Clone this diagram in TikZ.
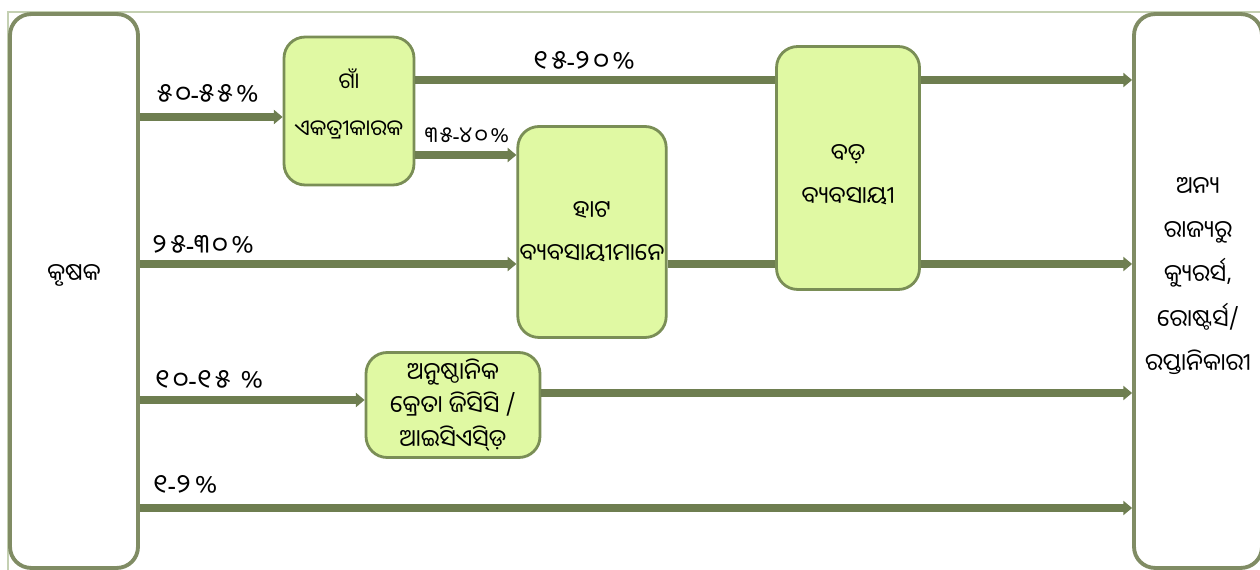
\documentclass[tikz,border=0pt]{standalone}
\usepackage{fontspec}
\newfontfamily\odia[Script=Oriya]{Noto Sans Oriya UI}
\newfontfamily\odiawide[Script=Oriya,LetterSpace=14]{Noto Sans Oriya UI}
\newfontfamily\latinfont{Noto Sans}
\newcommand{\rangedash}{{\latinfont -}}
\usetikzlibrary{arrows.meta,positioning}
\definecolor{oliveline}{RGB}{110,126,80}
\definecolor{olivebox}{RGB}{122,142,86}
\definecolor{endline}{RGB}{128,140,100}
\definecolor{limefill}{RGB}{224,249,163}
\definecolor{framegreen}{RGB}{196,208,178}

\begin{document}
\begin{tikzpicture}[x=0.02cm,y=-0.02cm,
  every node/.style={font=\odia\fontsize{13.5}{24}\selectfont,align=center,text=black},
  endbox/.style={draw=endline, line width=2.2pt, rounded corners=12pt, fill=white,
    minimum width=2.56cm, minimum height=11.08cm},
  midbox/.style={draw=olivebox, line width=1.6pt, rounded corners=12pt, fill=limefill,
    inner sep=1pt},
  flow/.style={draw=oliveline, line width=4.5pt, -{Triangle[length=5pt,width=8pt]}},
  link/.style={draw=oliveline, line width=4.5pt},
  share/.style={font=\odiawide\fontsize{15}{18}\selectfont}]

\useasboundingbox (0,0) rectangle (1260,570);

% outer frame
\draw[framegreen, line width=1pt] (8,572) -- (8,12) -- (1262,12);

% end points
\node[endbox] (farmer) at (74,291) {};
\node[endbox] (buyers) at (1198,291) {};
\node (farmertext) at (74,275) {କୃଷକ};
\node[font=\odia\fontsize{13.5}{25.2}\selectfont] (buyerstext) at (1198,276)
  {ଅନ୍ୟ\\ରାଜ୍ୟରୁ\\କ୍ୟୁରର୍ସ,\\ରୋଷ୍ଟର୍ସ/\\ରପ୍ତାନିକାରୀ};

% middlemen
\node[midbox, minimum width=2.6cm, minimum height=2.96cm,
  font=\odia\fontsize{12.5}{27}\selectfont] (agg) at (349,111) {};
\node[midbox, minimum width=2.9cm, minimum height=4.22cm] (hat) at (592,232) {ହାଟ\\ବ୍ୟବସାୟୀମାନେ};
\node[midbox, minimum width=2.86cm, minimum height=4.86cm] (big) at (848,168) {};
\node[midbox, minimum width=3.48cm, minimum height=2.1cm,
  font=\odia\fontsize{13.5}{19}\selectfont] (inst) at (453,405) {ଅନୁଷ୍ଠାନିକ\\କ୍ରେତା ଜିସିସି /\\ଆଇସିଏସ୍ଡ଼ି};
\node[font=\odia\fontsize{12.5}{27}\selectfont] (aggtext) at (349,104) {ଗାଁ\\ଏକତ୍ରୀକାରକ};
\node (bigtext) at (848,175) {ବଡ଼\\ବ୍ୟବସାୟୀ};

% rows of the flows
\coordinate (r1) at (0,80);
\coordinate (r2) at (0,117);
\coordinate (r3) at (0,155);
\coordinate (r4) at (0,264);
\coordinate (r5) at (0,400);
\coordinate (r5b) at (0,393);
\coordinate (r6) at (0,508);

% flows
\draw[flow] (farmer.east |- r2) -- (agg.west |- r2);
\draw[link] (agg.east |- r1) -- (big.west |- r1);
\draw[flow] (agg.east |- r3) -- (hat.west |- r3);
\draw[flow] (farmer.east |- r4) -- (hat.west |- r4);
\draw[link] (hat.east |- r4) -- (big.west |- r4);
\draw[flow] (big.east |- r1) -- (buyers.west |- r1);
\draw[flow] (big.east |- r4) -- (buyers.west |- r4);
\draw[flow] (farmer.east |- r5) -- (inst.west |- r5);
\draw[flow] (inst.east |- r5b) -- (buyers.west |- r5b);
\draw[flow] (farmer.east |- r6) -- (buyers.west |- r6);

% shares
\node[share] (s1) at (208,95) {୫୦\rangedash୫୫\%};
\node[share] (s2) at (584,62) {୧୫\rangedash୨୦\%};
\node[share, font=\odiawide\fontsize{12.5}{16}\selectfont] (s3) at (467,136) {୩୫\rangedash୪୦\%};
\node[share] (s4) at (203,245) {୨୫\rangedash୩୦\%};
\node[share] (s5) at (209,380) {୧୦\rangedash୧୫ \%};
\node[share] (s6) at (185,485) {୧\rangedash୨\%};

\end{tikzpicture}
\end{document}
